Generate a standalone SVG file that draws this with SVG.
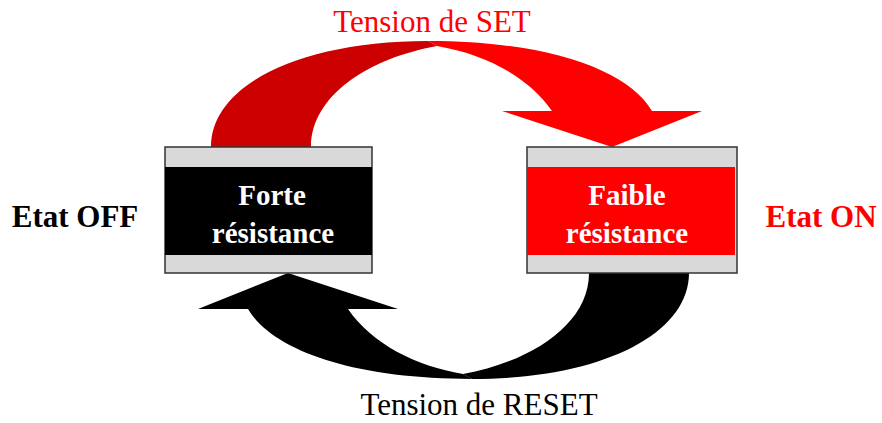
<svg xmlns="http://www.w3.org/2000/svg" width="882" height="423" viewBox="0 0 882 423">
<style>
.lbl{font-family:"Liberation Serif","Times New Roman",serif;font-size:31px;text-anchor:middle}
.b{font-weight:bold}
.box{font-family:"Liberation Serif","Times New Roman",serif;font-size:29px;font-weight:bold;fill:#fff;text-anchor:middle}
.plate{fill:#D9D9D9;stroke:#333;stroke-width:1.5}
</style>
<defs>
<path id="back" d="M211,147 C211,85 300,41 428,41 L437,46 C370,58 311,95 311,147 Z"/>
<path id="front" d="M428,41 C548,41 628,70 652,111 L702,111 L612,147 L502,111 L552,111 C528,76 484,54 437,46 Z"/>
</defs>
<rect width="882" height="423" fill="#fff"/>
<g id="connectors">
<g id="set-arrow">
<use href="#back" fill="#CC0000"/>
<use href="#front" fill="#FF0000"/>
</g>
<g id="reset-arrow" transform="rotate(180 450 210)">
<use href="#back" fill="#000"/>
<use href="#front" fill="#000"/>
</g>
</g>
<g id="off-node">
<rect class="plate" x="165" y="147" width="207" height="126"/>
<rect x="165" y="167" width="207" height="88" fill="#000"/>
<text class="box" x="272" y="205">Forte</text>
<text class="box" x="273" y="243">résistance</text>
</g>
<g id="on-node">
<rect class="plate" x="527" y="147" width="210" height="126"/>
<rect x="527" y="167" width="208" height="88" fill="#FF0000"/>
<text class="box" x="627" y="205">Faible</text>
<text class="box" x="627" y="243">résistance</text>
</g>
<text class="lbl b" x="75" y="227">Etat OFF</text>
<text class="lbl b" x="821" y="227" fill="#FF0000">Etat ON</text>
<text class="lbl" x="432" y="32" fill="#FF0000">Tension de SET</text>
<text class="lbl" x="479" y="415">Tension de RESET</text>
</svg>
